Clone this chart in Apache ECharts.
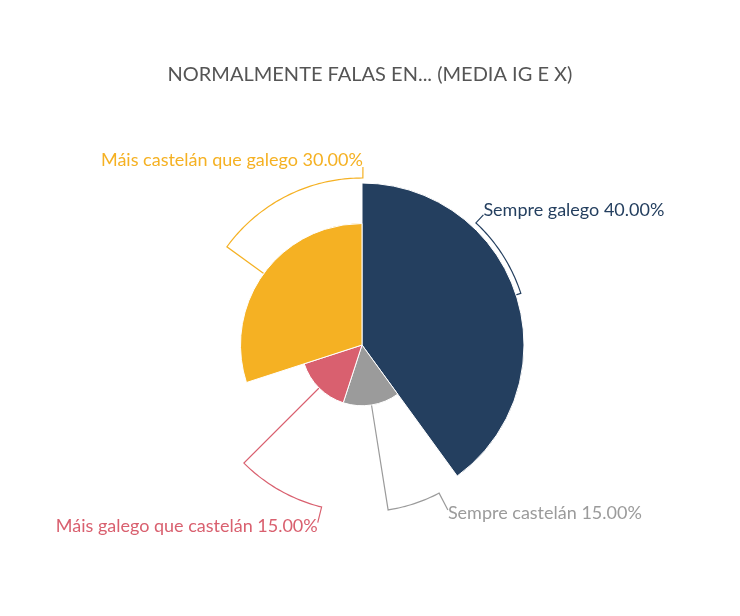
<!DOCTYPE html>
<html>
<head>
<meta charset="utf-8">
<script src="https://cdn.jsdelivr.net/npm/echarts@6/dist/echarts.min.js"></script>
<style>
  html, body { margin: 0; padding: 0; background: #fff; }
  #container { width: 740px; height: 616px; }
</style>
</head>
<body>
<div id="container"></div>
<script>
// data
var titleText = 'NORMALMENTE FALAS EN... (MEDIA IG E X)';
var categories = ['Sempre galego', 'Sempre castelán', 'Máis galego que castelán', 'Máis castelán que galego'];
var values = [40, 15, 15, 30];
var colors = ['#243f5f', '#9b9b9b', '#d9606f', '#f5b123'];

// layout of the label lines (angle clockwise from 12 o'clock)
var cx = 362, cy = 345, outerR = 162, arcR = 167;
var labelAngles = [43, 152.5, 194, 360.3];
var labelRadii = [178, 186, 183, 178];
var labelDy = [-5, 3, 4, -7];

var total = values.reduce(function (a, b) { return a + b; }, 0);
var maxVal = Math.max.apply(null, values);

var polar = function (deg, r) {
    var a = deg * Math.PI / 180;
    return [cx + r * Math.sin(a), cy - r * Math.cos(a)];
};

var midAngle = function (idx) {
    var cum = 0;
    for (var i = 0; i < idx; i++) cum += values[i];
    return (cum + values[idx] / 2) / total * 360;
};

var dom = document.getElementById('container');
var myChart = echarts.init(dom);

var option = {
    backgroundColor: '#fff',
    animation: false,
    title: {
        text: titleText,
        left: 'center',
        top: 60,
        textStyle: {
            color: '#555',
            fontFamily: 'Lato',
            fontWeight: 'normal',
            fontSize: 20
        }
    },
    series: [
        {
            type: 'pie',
            roseType: 'radius',
            center: [cx, cy],
            radius: [0, outerR],
            startAngle: 90,
            clockwise: true,
            avoidLabelOverlap: false,
            itemStyle: {
                borderColor: '#fff',
                borderWidth: 1
            },
            label: {
                show: true,
                fontFamily: 'Lato',
                fontSize: 18,
                formatter: function (p) {
                    return p.name + ' ' + (p.value / total * 100).toFixed(2) + '%';
                }
            },
            labelLine: {
                show: true,
                smooth: false,
                lineStyle: { width: 1.2 }
            },
            labelLayout: function (params) {
                var i = params.dataIndex;
                var m = midAngle(i);
                var la = labelAngles[i];
                var r0 = values[i] / maxVal * outerR;
                var pts = [polar(m, r0), polar(m, arcR)];
                var step = la > m ? 1 : -1;
                for (var a = m + step; step > 0 ? a < la : a > la; a += step) {
                    pts.push(polar(a, arcR));
                }
                pts.push(polar(la, arcR));
                var end = polar(la, labelRadii[i]);
                pts.push(end);
                var right = Math.sin(m * Math.PI / 180) >= 0;
                return {
                    x: end[0],
                    y: end[1] + labelDy[i],
                    align: right ? 'left' : 'right',
                    verticalAlign: 'middle',
                    labelLinePoints: pts
                };
            },
            data: categories.map(function (name, i) {
                return {
                    name: name,
                    value: values[i],
                    itemStyle: { color: colors[i] },
                    label: { color: colors[i] },
                    labelLine: { lineStyle: { color: colors[i] } }
                };
            })
        }
    ]
};

myChart.setOption(option);
</script>
</body>
</html>
